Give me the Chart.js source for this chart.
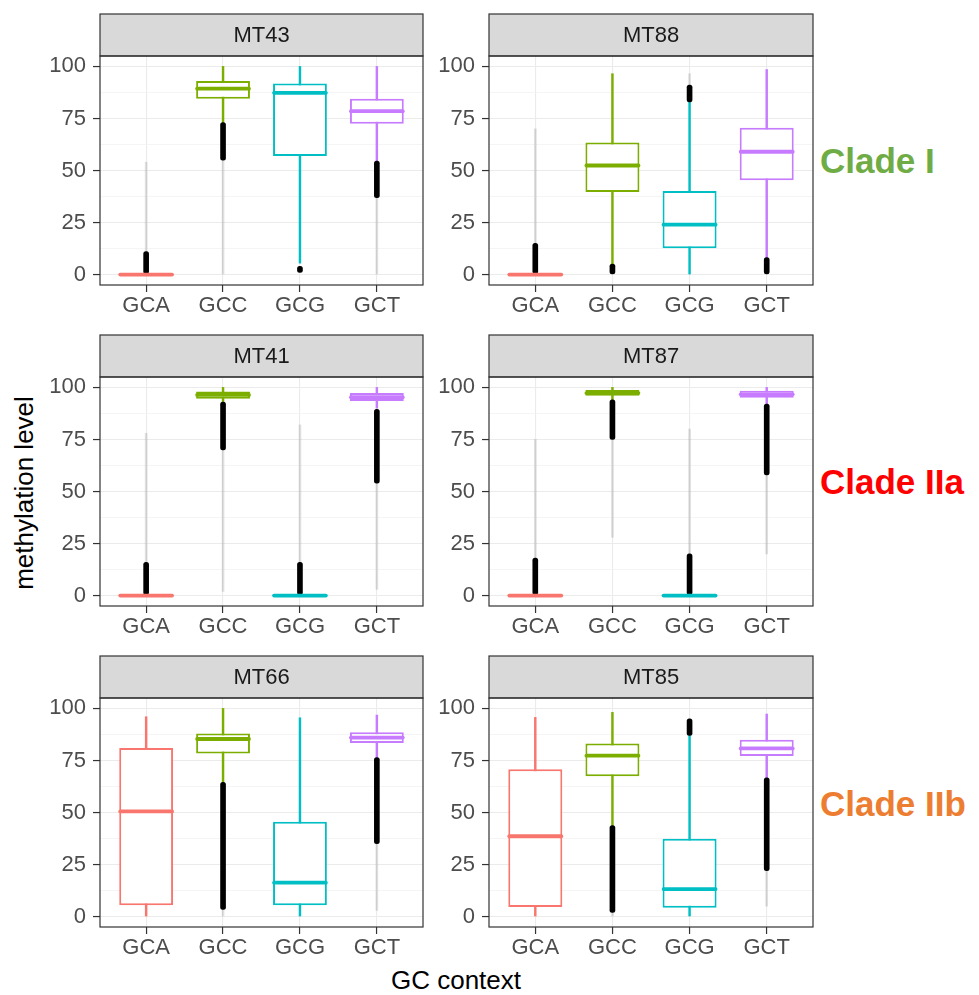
<!DOCTYPE html>
<html>
<head>
<meta charset="utf-8">
<script src="https://cdn.jsdelivr.net/npm/chart.js@4.4.1/dist/chart.umd.min.js"></script>
<style>
  body { margin: 0; background: #fff; width: 979px; height: 995px; position: relative; overflow: hidden;
         font-family: "Liberation Sans", Arial, Helvetica, sans-serif; }
  canvas { position: absolute; }
  .title { position: absolute; color: #000; font-size: 26px; white-space: nowrap; line-height: 1; }
  .clade { position: absolute; left: 820px; font-size: 35px; font-weight: bold; line-height: 1;
           white-space: nowrap; transform: translateY(-50%); }
</style>
</head>
<body>
<div class="title" style="left:456px;top:980px;transform:translate(-50%,-50%)">GC context</div>
<div class="title" style="left:24px;top:493px;transform:translate(-50%,-50%) rotate(-90deg)">methylation level</div>
<script>
// ---- data ----
const categories = ['GCA', 'GCC', 'GCG', 'GCT'];
const panelNames = ['MT43', 'MT88', 'MT41', 'MT87', 'MT66', 'MT85'];
const yTicks = [0, 25, 50, 75, 100];
const yMinorTicks = [12.5, 37.5, 62.5, 87.5];

// one row per panel, one value per category (GCA, GCC, GCG, GCT)
const lowerQuartile = [
    [0, 84.5, 57, 72.4],
    [0, 39.7, 12.6, 45.3],
    [0, 94.5, 0, 93.5],
    [0, 96, 0, 95],
    [5.4, 78.4, 5.4, 83.4],
    [4.6, 67.4, 4.3, 77.1]
];
const medians = [
    [0, 89.3, 87.3, 78.5],
    [0, 52.4, 24, 59],
    [0, 96.4, 0, 95.3],
    [0, 97.3, 0, 96.7],
    [50.5, 85.3, 16.3, 86],
    [38.6, 77.3, 13.2, 80.8]
];
const upperQuartile = [
    [0, 93, 91.8, 84.5],
    [0, 63.4, 40.2, 70.5],
    [0, 98, 0, 97.3],
    [0, 98.7, 0, 98.4],
    [81, 88, 45.5, 88.5],
    [70.8, 83.1, 37.4, 85]
];
const whiskerLow = [
    [null, 73, 5.5, 54.5],
    [null, 5, 0, 8.2],
    [null, 93, null, 90],
    [null, 94, null, 92],
    [0, 64.5, 0, 76.4],
    [0, 43.7, 0, 66.6]
];
const whiskerHigh = [
    [null, 100, 100, 100],
    [null, 96.5, 83, 98.5],
    [null, 100, null, 100],
    [null, 100, null, 100],
    [96, 100, 95.5, 96.8],
    [95.7, 98.1, 87, 97.3]
];
// dense runs of outlier points [from, to]
const outliersDense = [
    [[0.5, 11], [55, 73], [1, 4], [37, 54.5]],
    [[0.5, 15], [0, 5], [83, 91], [0, 8.2]],
    [[0.5, 16], [70, 93], [0.5, 16], [54, 89.5]],
    [[0.5, 18], [75, 94], [0.5, 20], [58, 92]],
    [null, [3.5, 64.5], null, [35, 76.4]],
    [null, [2, 43.7], [87, 95], [22, 66.6]]
];
// scattered outlier points [from, to]
const outliersSparse = [
    [[11, 54], [0, 55], null, [0, 37]],
    [[15, 70], null, [91, 96.5], null],
    [[16, 78], [2, 70], [16, 82], [3, 54]],
    [[18, 75], [28, 75], [20, 80], [20, 58]],
    [null, [0, 3.5], null, [3, 35]],
    [null, [0, 2], null, [5, 22]]
];
const cladeNames = ['Clade I', 'Clade IIa', 'Clade IIb'];

// ---- styles ----
const catColors = ['#F8766D', '#7CAE00', '#00BFC4', '#C77CFF'];
const cladeColors = ['#6FAC46', '#FF0000', '#ED7D31'];
const FONT = '"Liberation Sans", Arial, Helvetica, sans-serif';

const facetPlugin = {
    id: 'facet',
    afterDatasetsDraw(chart, args, opts) {
        // median lines on top of the boxes
        const ctx = chart.ctx;
        const y = chart.scales.y;
        const meta = chart.getDatasetMeta(1);
        ctx.save();
        ctx.lineCap = 'round';
        meta.data.forEach((bar, i) => {
            const py = y.getPixelForValue(medians[opts.panel][i]);
            ctx.strokeStyle = catColors[i];
            ctx.lineWidth = 3.8;
            ctx.beginPath();
            ctx.moveTo(bar.x - bar.width / 2 + 1, py);
            ctx.lineTo(bar.x + bar.width / 2 - 1, py);
            ctx.stroke();
        });
        ctx.restore();
    },
    afterDraw(chart, args, opts) {
        const ctx = chart.ctx;
        const a = chart.chartArea;
        ctx.save();
        // strip
        const stripH = 42;
        ctx.fillStyle = '#d9d9d9';
        ctx.fillRect(a.left, a.top - stripH, a.right - a.left, stripH);
        ctx.strokeStyle = '#333';
        ctx.lineWidth = 1.2;
        ctx.strokeRect(a.left, a.top - stripH, a.right - a.left, stripH);
        ctx.fillStyle = '#1a1a1a';
        ctx.font = '22px ' + FONT;
        ctx.textAlign = 'center';
        ctx.textBaseline = 'middle';
        ctx.fillText(panelNames[opts.panel], (a.left + a.right) / 2, a.top - stripH / 2 + 1);
        // panel border
        ctx.strokeRect(a.left, a.top, a.right - a.left, a.bottom - a.top);
        ctx.restore();
    }
};

function rangeData(rows, p) {
    return categories.map((c, i) => ({ x: i + 1, y: rows[p][i] }));
}

function makePanel(p) {
    const row = Math.floor(p / 2), col = p % 2;
    const left = col === 0 ? 0 : 430;
    const width = col === 0 ? 430 : 390;
    const height = 321;
    const canvas = document.createElement('canvas');
    canvas.width = width;
    canvas.height = height;
    canvas.style.left = left + 'px';
    canvas.style.top = (row * height) + 'px';
    canvas.style.width = width + 'px';
    canvas.style.height = height + 'px';
    document.body.appendChild(canvas);

    const yAxisWidth = col === 0 ? 100 : 59;
    const padRight = 7;

    const boxes = categories.map((c, i) => ({ x: i + 1, y: [lowerQuartile[p][i], upperQuartile[p][i]] }));
    const whiskers = categories.map((c, i) => ({
        x: i + 1,
        y: whiskerLow[p][i] === null ? null : [whiskerLow[p][i], whiskerHigh[p][i]]
    }));

    new Chart(canvas, {
        type: 'bar',
        data: {
            datasets: [
                {   // dense outliers (drawn on top)
                    data: rangeData(outliersDense, p),
                    backgroundColor: '#000',
                    barThickness: 5,
                    borderRadius: 2.5,
                    borderSkipped: false,
                    grouped: false
                },
                {   // boxes
                    data: boxes,
                    backgroundColor: '#fff',
                    borderColor: catColors,
                    borderWidth: 2,
                    borderSkipped: false,
                    categoryPercentage: 1,
                    barPercentage: 0.7,
                    grouped: false
                },
                {   // whiskers
                    data: whiskers,
                    backgroundColor: catColors,
                    barThickness: 1.8,
                    grouped: false
                },
                {   // sparse outliers
                    data: rangeData(outliersSparse, p),
                    backgroundColor: 'rgba(0,0,0,0.12)',
                    barThickness: 2,
                    grouped: false
                }
            ]
        },
        options: {
            responsive: false,
            animation: false,
            devicePixelRatio: 1,
            layout: { padding: { top: 56, right: padRight, left: 0, bottom: 0 } },
            plugins: {
                legend: { display: false },
                tooltip: { enabled: false },
                facet: { panel: p }
            },
            scales: {
                x: {
                    type: 'linear',
                    offset: false,
                    min: 0.4,
                    max: 4.6,
                    afterBuildTicks(scale) {
                        scale.ticks = categories.map((c, i) => ({ value: i + 1 }));
                    },
                    afterFit(scale) { scale.height = 36; },
                    border: { display: false },
                    grid: {
                        offset: false,
                        color: '#ebebeb',
                        lineWidth: 1.1,
                        tickColor: '#333',
                        tickLength: 7,
                        tickWidth: 1.2
                    },
                    ticks: {
                        autoSkip: false,
                        maxRotation: 0,
                        padding: 1,
                        color: '#4d4d4d',
                        font: { family: FONT, size: 22 },
                        callback: (v) => categories[v - 1]
                    }
                },
                y: {
                    min: -5,
                    max: 105,
                    afterBuildTicks(scale) {
                        scale.ticks = yMinorTicks.concat(yTicks).sort((a, b) => a - b).map(v => ({ value: v }));
                    },
                    afterFit(scale) { scale.width = yAxisWidth; },
                    border: { display: false },
                    grid: {
                        color: (c) => yTicks.includes(c.tick.value) ? '#ebebeb' : '#f3f3f3',
                        lineWidth: (c) => yTicks.includes(c.tick.value) ? 1.1 : 0.8,
                        tickColor: (c) => yTicks.includes(c.tick.value) ? '#333' : 'rgba(0,0,0,0)',
                        tickLength: 7,
                        tickWidth: 1.2
                    },
                    ticks: {
                        autoSkip: false,
                        padding: 7,
                        color: '#4d4d4d',
                        font: { family: FONT, size: 22 },
                        callback: (v) => yTicks.includes(v) ? String(v) : ''
                    }
                }
            }
        },
        plugins: [facetPlugin]
    });
}

panelNames.forEach((n, p) => makePanel(p));

// clade labels at the right of each row
const cladeY = [160, 481, 803];
cladeNames.forEach((name, r) => {
    const d = document.createElement('div');
    d.className = 'clade';
    d.style.top = cladeY[r] + 'px';
    d.style.color = cladeColors[r];
    d.textContent = name;
    document.body.appendChild(d);
});
</script>
</body>
</html>
